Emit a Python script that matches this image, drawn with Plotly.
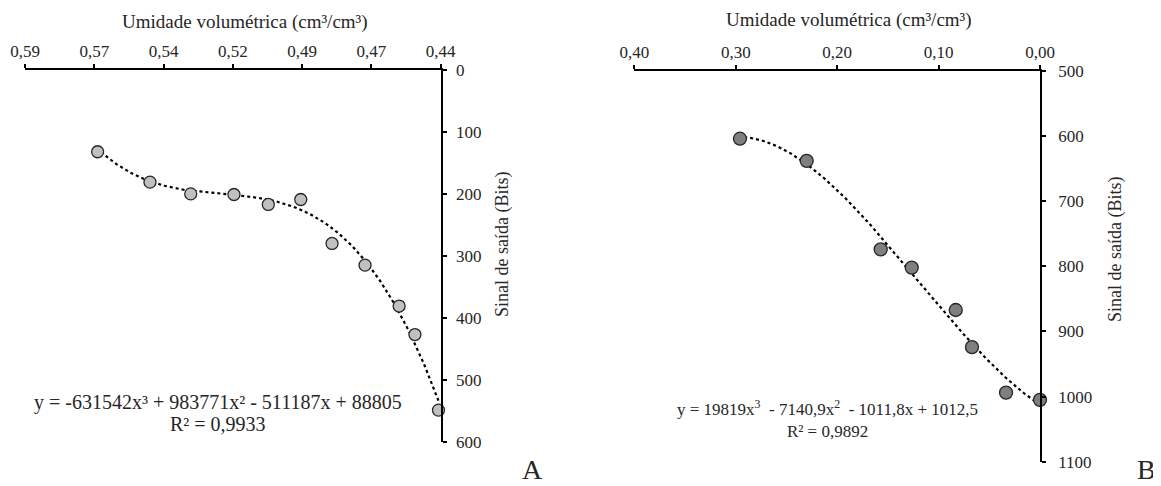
import numpy as np
import plotly.graph_objects as go

# ---------------- data ----------------
# Panel A
umidade_a = [0.5638, 0.5449, 0.5302, 0.5146, 0.5022, 0.4905, 0.4792, 0.4673, 0.4550, 0.4493, 0.4408]
sinal_a = [132, 181, 200, 201, 217, 209, 280, 315, 381, 427, 549]
coef_a = [-631542, 983771, -511187, 88805]
xtickvals_a = [0.59, 0.565, 0.54, 0.515, 0.49, 0.465, 0.44]
xticktext_a = ["0,59", "0,57", "0,54", "0,52", "0,49", "0,47", "0,44"]
ytickvals_a = [0, 100, 200, 300, 400, 500, 600]

# Panel B
umidade_b = [0.2959, 0.2301, 0.1571, 0.1265, 0.0831, 0.0671, 0.0335, 0.0000]
sinal_b = [604, 638, 774, 802, 867, 924, 994, 1005]
coef_b = [19819, -7140.9, -1011.8, 1012.5]
xtickvals_b = [0.40, 0.30, 0.20, 0.10, 0.00]
xticktext_b = ["0,40", "0,30", "0,20", "0,10", "0,00"]
ytickvals_b = [500, 600, 700, 800, 900, 1000, 1100]

# page body has an 8px margin, so the figure is 8px smaller and shifted
OFF = 8
W, H = 1161 - OFF, 486 - OFF
FONT = "Liberation Serif, Times New Roman, serif"
TXT = "#262626"


def px(x):
    return (x - OFF) / W


def py(y):
    return 1 - (y - OFF) / H


def trend(coef, xs):
    xs = np.linspace(min(xs), max(xs), 200)
    return xs, np.polyval(coef, xs)


fig = go.Figure()

tx, ty = trend(coef_a, umidade_a)
fig.add_trace(go.Scatter(x=tx, y=ty, mode="lines", xaxis="x", yaxis="y",
                         line=dict(color="black", width=2.2, dash="dot"),
                         hoverinfo="skip", showlegend=False))
fig.add_trace(go.Scatter(x=umidade_a, y=sinal_a, mode="markers", xaxis="x", yaxis="y",
                         marker=dict(size=12, color="#c0c0c0", line=dict(color="#262626", width=1.3)),
                         cliponaxis=False, showlegend=False))

tx, ty = trend(coef_b, umidade_b)
fig.add_trace(go.Scatter(x=tx, y=ty, mode="lines", xaxis="x2", yaxis="y2",
                         line=dict(color="black", width=2.2, dash="dot"),
                         hoverinfo="skip", showlegend=False))
fig.add_trace(go.Scatter(x=umidade_b, y=sinal_b, mode="markers", xaxis="x2", yaxis="y2",
                         marker=dict(size=13, color="#7f7f7f", line=dict(color="#262626", width=1.3)),
                         cliponaxis=False, showlegend=False))

axis_common = dict(showgrid=False, zeroline=False, showline=True, linecolor="black",
                   linewidth=1.6, ticks="outside", ticklen=4, tickwidth=1.6, tickcolor="black",
                   automargin=False,
                   tickfont=dict(family=FONT, size=17, color=TXT))

fig.update_layout(
    template="none",
    width=W, height=H,
    margin=dict(l=0, r=0, t=0, b=0, pad=0, autoexpand=False),
    paper_bgcolor="white", plot_bgcolor="white",
    font=dict(family=FONT, color=TXT, size=17),
    showlegend=False,
    xaxis=dict(axis_common, domain=[px(25), px(440.7)], range=[0.59, 0.44], side="top",
               anchor="y", tickvals=xtickvals_a, ticktext=xticktext_a),
    yaxis=dict(axis_common, domain=[py(441.7), py(70)], range=[600, 0], side="right",
               anchor="x", tickvals=ytickvals_a, ticklabelstandoff=6),
    xaxis2=dict(axis_common, domain=[px(634.4), px(1040)], range=[0.40, 0.00], side="top",
                anchor="y2", tickvals=xtickvals_b, ticktext=xticktext_b),
    yaxis2=dict(axis_common, domain=[py(461.7), py(71)], range=[1100, 500], side="right",
                anchor="x2", tickvals=ytickvals_b, ticklabelstandoff=9),
)

ann = []


def add(text, x, y, size, angle=0):
    ann.append(dict(text=text, x=px(x), y=py(y), xref="paper", yref="paper",
                    showarrow=False, xanchor="center", yanchor="middle", textangle=angle,
                    align="center",
                    font=dict(family=FONT, size=size, color=TXT)))


add("Umidade volumétrica (cm³/cm³)", 245, 22, 19)
add("Umidade volumétrica (cm³/cm³)", 849, 20.5, 19)
add("Sinal de saída (Bits)", 502, 245, 18, -90)
add("Sinal de saída (Bits)", 1115, 250, 18, -90)
add("y = -631542x³ + 983771x² - 511187x + 88805", 218, 402, 20)
add("R² = 0,9933", 218, 424, 20)
add("y = 19819x<sup>3</sup>  - 7140,9x<sup>2</sup>  - 1011,8x + 1012,5<br>R² = 0,9892", 827, 419, 17)
add("A", 532, 469.5, 28)
add("B", 1146, 469.5, 28)

fig.update_layout(annotations=ann)
fig.write_html("out.html")
